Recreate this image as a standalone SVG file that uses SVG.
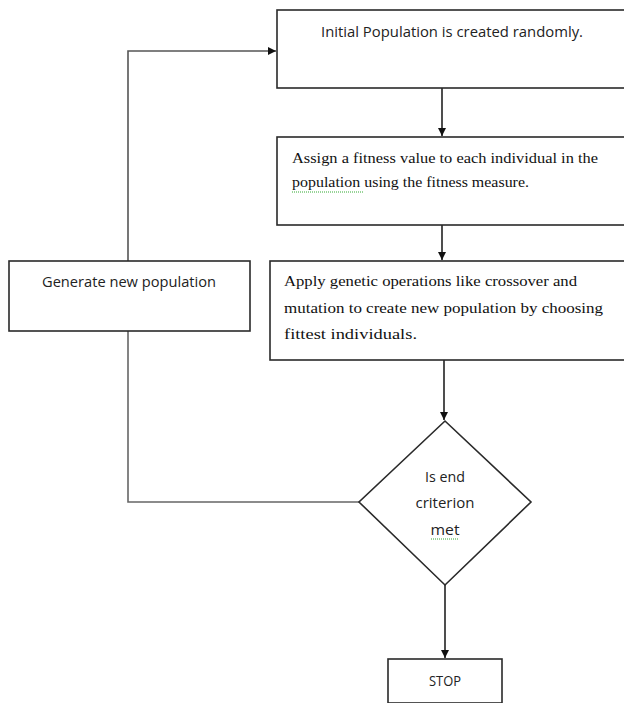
<svg xmlns="http://www.w3.org/2000/svg" width="624" height="703" viewBox="0 0 624 703">
<style>
.box{fill:#fff;stroke:#2a2a2a;stroke-width:1.6}
.sans{font-family:"Open Sans","Liberation Sans",sans-serif;font-size:14px;fill:#222}
.serif{font-family:"Liberation Serif","DejaVu Serif",serif;font-size:14.5px;fill:#111}
.con{fill:none;stroke:#222;stroke-width:1.6}
.squig{fill:none;stroke:#3a3;stroke-width:1;stroke-dasharray:1 1}
</style>
<defs>
<marker id="ah" viewBox="0 0 10 10" refX="10" refY="5" markerWidth="8" markerHeight="8" markerUnits="userSpaceOnUse" orient="auto">
<path d="M0,0 L10,5 L0,10 z" fill="#111"/>
</marker>
</defs>
<rect width="624" height="703" fill="#fff"/>
<g id="connectors">
<line class="con" x1="442" y1="88" x2="442" y2="136" marker-end="url(#ah)"/>
<line class="con" x1="442" y1="225" x2="442" y2="260" marker-end="url(#ah)"/>
<line class="con" x1="444" y1="360" x2="444" y2="420" marker-end="url(#ah)"/>
<line class="con" x1="445" y1="585" x2="445" y2="658" marker-end="url(#ah)"/>
<polyline class="con" points="128,261 128,51 276,51" style="stroke:#555" marker-end="url(#ah)"/>
<polyline class="con" points="128,331 128,502 359,502" style="stroke:#666"/>
</g>
<g id="initial">
<rect class="box" x="277" y="10" width="360" height="78"/>
<text class="sans" x="452" y="37" text-anchor="middle" textLength="262" lengthAdjust="spacingAndGlyphs">Initial Population is created randomly.</text>
</g>
<g id="fitness">
<rect class="box" x="277" y="137" width="360" height="88"/>
<text class="serif" x="292" y="163" textLength="306" lengthAdjust="spacingAndGlyphs">Assign a fitness value to each individual in the</text>
<text class="serif" x="292" y="187" textLength="237" lengthAdjust="spacingAndGlyphs">population using the fitness measure.</text>
<line class="squig" x1="292" y1="192" x2="364" y2="192"/>
</g>
<g id="genetic">
<rect class="box" x="270" y="261" width="370" height="99"/>
<text class="serif" x="284" y="286" textLength="293" lengthAdjust="spacingAndGlyphs">Apply genetic operations like crossover and</text>
<text class="serif" x="284" y="313" textLength="319" lengthAdjust="spacingAndGlyphs">mutation to create new population by choosing</text>
<text class="serif" x="284" y="339" textLength="133" lengthAdjust="spacingAndGlyphs">fittest individuals.</text>
</g>
<g id="generate">
<rect class="box" x="9" y="261" width="241" height="70"/>
<text class="sans" x="129" y="287" text-anchor="middle" textLength="174" lengthAdjust="spacingAndGlyphs">Generate new population</text>
</g>
<g id="decision">
<polygon class="box" points="445,421 531,502 445,585 359,502"/>
<text class="sans" x="445" y="482" text-anchor="middle" textLength="40" lengthAdjust="spacingAndGlyphs">Is end</text>
<text class="sans" x="445" y="508" text-anchor="middle" textLength="59" lengthAdjust="spacingAndGlyphs">criterion</text>
<text class="sans" x="445" y="535" text-anchor="middle" textLength="29" lengthAdjust="spacingAndGlyphs">met</text>
<line class="squig" x1="431" y1="539" x2="459" y2="539"/>
</g>
<g id="stop">
<rect class="box" x="388" y="659" width="114" height="44"/>
<text class="sans" x="445" y="686" text-anchor="middle" textLength="32" lengthAdjust="spacingAndGlyphs">STOP</text>
</g>
</svg>
